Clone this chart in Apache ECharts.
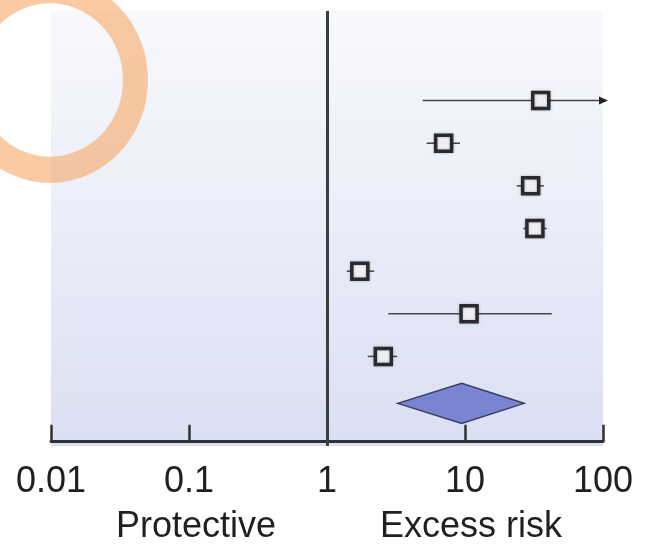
<!DOCTYPE html>
<html>
<head>
<meta charset="utf-8">
<script src="https://cdn.jsdelivr.net/npm/echarts@6/dist/echarts.min.js"></script>
<style>
html,body{margin:0;padding:0;background:#ffffff;}
#chart{width:647px;height:549px;}
</style>
</head>
<body>
<div id="chart"></div>
<script>
// ---- data ----
const xTickValues = [0.01, 0.1, 1, 10, 100];
const xTickLabels = ['0.01', '0.1', '1', '10', '100'];
const sideLabels = ['Protective', 'Excess risk'];
const rowPos    = [8, 7, 6, 5, 4, 3, 2];
const estimates = [35.4, 7.0, 29.9, 32.1, 1.73, 10.7, 2.56];
const lower     = [4.94, 5.27, 23.7, 26.5, 1.39, 2.78, 1.97];
const upper     = [200, 9.2, 37.3, 39.1, 2.20, 42.5, 3.23];
const pooledPos = [0.9];
const pooledEst = [9.46];
const pooledLower = [3.25];
const pooledUpper = [26.8];
const refValue = 1;

const xMin = xTickValues[0], xMax = xTickValues[xTickValues.length - 1];

const rowData = rowPos.map((p, i) => [estimates[i], p, lower[i], upper[i]]);
const pooledData = pooledPos.map((p, i) => [pooledEst[i], p, pooledLower[i], pooledUpper[i]]);

const chart = echarts.init(document.getElementById('chart'), null, {renderer: 'canvas'});
const font = '"Liberation Sans", Arial, Helvetica, sans-serif';
const ink = '#231f20';

const option = {
  animation: false,
  backgroundColor: '#ffffff',
  grid: {
    left: 51, right: 44, top: 11, bottom: 103,
    show: true, borderWidth: 0,
    backgroundColor: new echarts.graphic.LinearGradient(0, 0, 0, 1, [
      {offset: 0, color: '#f8f9fd'},
      {offset: 0.5, color: '#eaedf8'},
      {offset: 1, color: '#dadff2'}
    ])
  },
  xAxis: {
    type: 'log', logBase: 10, min: xMin, max: xMax,
    position: 'bottom',
    axisLine: {show: true, lineStyle: {color: '#2e3135', width: 3}},
    axisTick: {show: true, inside: true, length: 17, lineStyle: {color: '#2e3135', width: 2.5}},
    splitLine: {show: false},
    minorTick: {show: false},
    axisLabel: {
      margin: 18, fontSize: 36, color: ink, fontFamily: font,
      formatter: v => xTickLabels[Math.round(Math.log10(v)) + 2]
    }
  },
  yAxis: {
    type: 'value', min: -0.1, max: 10.1, show: false
  },
  series: [
    {
      type: 'custom',
      name: 'ci',
      clip: false,
      data: rowData,
      z: 2,
      renderItem: function (params, api) {
        const y = api.value(1);
        const lo = api.value(2), hi = api.value(3);
        const p1 = api.coord([Math.max(lo, xMin), y]);
        const p2 = api.coord([Math.min(hi, xMax), y]);
        const children = [{
          type: 'line',
          shape: {x1: p1[0], y1: p1[1], x2: p2[0], y2: p2[1]},
          style: {stroke: '#444', lineWidth: 1.5}
        }];
        if (hi > xMax) {
          children.push({
            type: 'polygon',
            shape: {points: [[p2[0] - 4, p2[1] - 4], [p2[0] + 5, p2[1]], [p2[0] - 4, p2[1] + 4]]},
            style: {fill: '#222'}
          });
        }
        return {type: 'group', children: children};
      }
    },
    {
      type: 'scatter',
      name: 'estimate',
      data: rowData,
      symbol: 'rect',
      symbolSize: 16,
      z: 3,
      itemStyle: {
        color: '#eef0f6', borderColor: '#2a2a2e', borderWidth: 3.5,
        shadowBlur: 3, shadowColor: 'rgba(0,0,0,0.25)', opacity: 1
      }
    },
    {
      type: 'custom',
      name: 'pooled',
      clip: false,
      data: pooledData,
      z: 3,
      renderItem: function (params, api) {
        const y = api.value(1);
        const c = api.coord([api.value(0), y]);
        const l = api.coord([api.value(2), y]);
        const r = api.coord([api.value(3), y]);
        const h = 20;
        return {
          type: 'polygon',
          shape: {points: [[l[0], c[1]], [c[0], c[1] - h], [r[0], c[1]], [c[0], c[1] + h]]},
          style: {fill: '#7b84d3', stroke: '#3a3e5e', lineWidth: 1.5}
        };
      }
    },
    {
      type: 'line',
      name: 'ref',
      data: [],
      markLine: {
        silent: true,
        symbol: ['none', 'none'],
        label: {show: false},
        lineStyle: {color: '#3a3d42', width: 3, type: 'solid'},
        data: [{xAxis: refValue}]
      }
    }
  ],
  graphic: [
    {
      type: 'text', x: 196, y: 527, z: 10,
      style: {text: sideLabels[0], fontSize: 36, fontFamily: font, fill: ink, align: 'center', verticalAlign: 'middle'}
    },
    {
      type: 'text', x: 471, y: 527, z: 10,
      style: {text: sideLabels[1], fontSize: 36, fontFamily: font, fill: ink, align: 'center', verticalAlign: 'middle'}
    },
    {
      type: 'ring', x: 50, y: 80, scaleY: 1.05, z: 100,
      shape: {cx: 0, cy: 0, r: 98, r0: 73},
      style: {fill: 'rgba(245,160,85,0.55)'}
    }
  ]
};
chart.setOption(option);
</script>
</body>
</html>
